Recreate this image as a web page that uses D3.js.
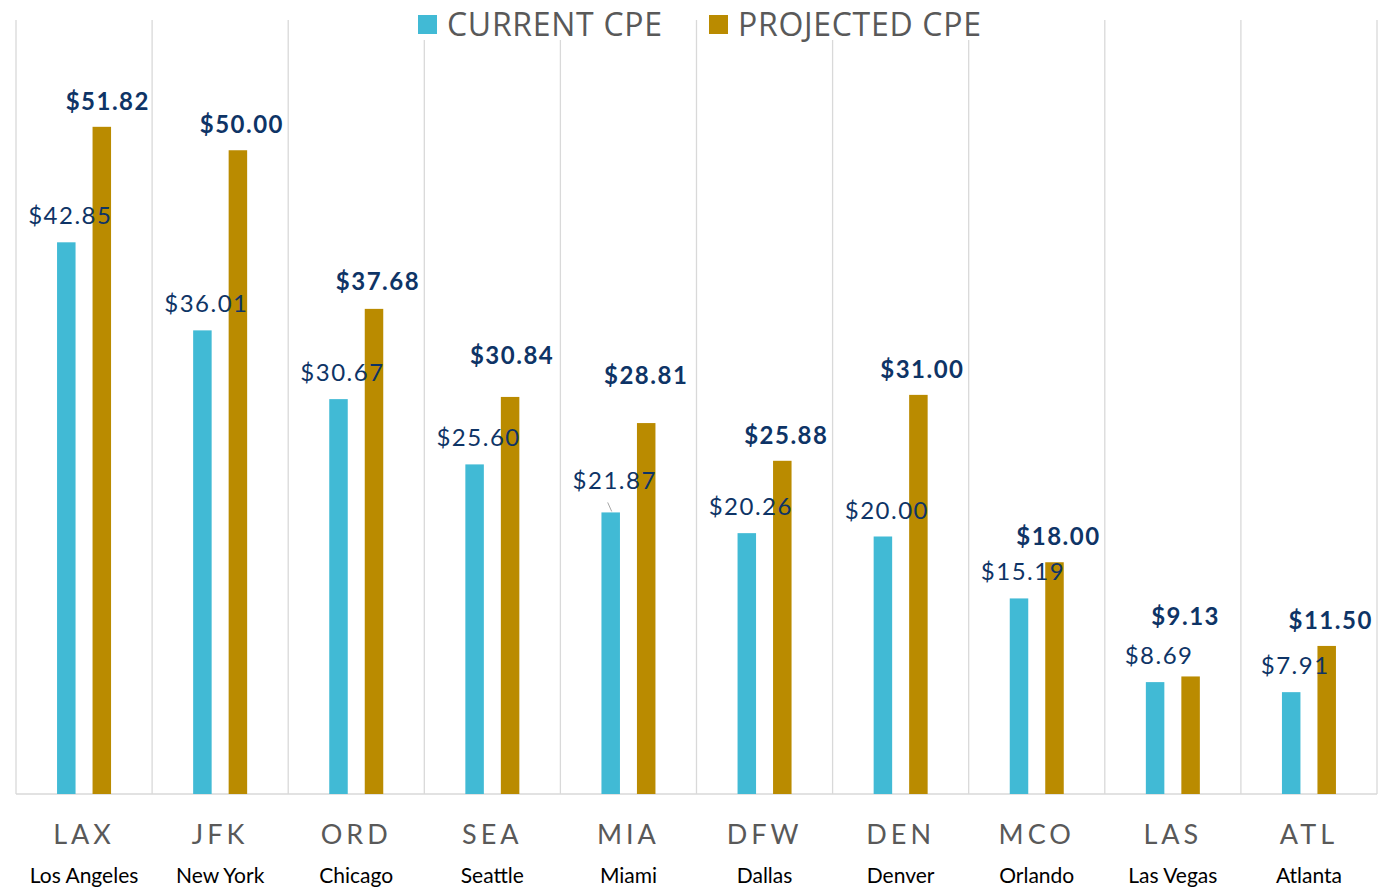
<!DOCTYPE html>
<html>
<head>
<meta charset="utf-8">
<script src="https://cdn.jsdelivr.net/npm/d3@7"></script>
<style>
  body { margin: 0; background: #fff; }
  svg { display: block; }
</style>
</head>
<body>
<div id="chart"></div>
<script>
// data
const codes = ["LAX", "JFK", "ORD", "SEA", "MIA", "DFW", "DEN", "MCO", "LAS", "ATL"];
const cities = ["Los Angeles", "New York", "Chicago", "Seattle", "Miami", "Dallas", "Denver", "Orlando", "Las Vegas", "Atlanta"];
const currentCPE = [42.85, 36.01, 30.67, 25.60, 21.87, 20.26, 20.00, 15.19, 8.69, 7.91];
const projectedCPE = [51.82, 50.00, 37.68, 30.84, 28.81, 25.88, 31.00, 18.00, 9.13, 11.50];
const seriesNames = ["CURRENT CPE", "PROJECTED CPE"];

(function() {
  const fullW = 1383, fullH = 888;
  const plot = { left: 16, right: 1377, top: 20, bottom: 794 };
  const colours = ["#41BAD5", "#BA8B00"];
  const labelColour = "#0E3466";
  const gridColour = "#D9D9D9";

  // hand-placed data labels in the original (extra lift / shift, px)
  const curLift = { MIA: 5 };
  const projLift = { SEA: 16, MIA: 22, LAS: 34, ORD: 2 };
  const projShift = { LAX: 2, MIA: -4, LAS: -9, SEA: -2 };

  const svg = d3.select("#chart").append("svg")
    .attr("width", fullW).attr("height", fullH);

  const x = d3.scaleBand().domain(codes).range([plot.left, plot.right]).padding(0);
  const y = d3.scaleLinear().domain([0, 60]).range([plot.bottom, 21.5]);

  const barW = 18.5, gap = 17;
  const offs = [-(gap / 2 + barW), gap / 2];

  // vertical category separators
  const seps = d3.range(codes.length + 1).map(i => plot.left + i * x.bandwidth());
  svg.append("g").selectAll("line").data(seps).join("line")
    .attr("x1", d => d).attr("x2", d => d)
    .attr("y1", plot.top).attr("y2", plot.bottom)
    .attr("stroke", gridColour).attr("stroke-width", 1.3);

  // baseline
  svg.append("line")
    .attr("x1", plot.left).attr("x2", plot.right)
    .attr("y1", plot.bottom).attr("y2", plot.bottom)
    .attr("stroke", gridColour).attr("stroke-width", 1.5);

  const rows = codes.map((c, i) => ({ code: c, city: cities[i], vals: [currentCPE[i], projectedCPE[i]] }));
  const cx = d => x(d.code) + x.bandwidth() / 2;

  // bars
  [0, 1].forEach(s => {
    svg.append("g").selectAll("rect").data(rows).join("rect")
      .attr("x", d => cx(d) + offs[s])
      .attr("y", d => y(d.vals[s]))
      .attr("width", barW)
      .attr("height", d => y(0) - y(d.vals[s]))
      .attr("fill", colours[s]);
  });

  // leader line for the MIA current label
  const mia = rows.find(d => d.code === "MIA");
  const miaX = cx(mia) + offs[0] + barW / 2;
  svg.append("line")
    .attr("x1", miaX - 3).attr("y1", y(mia.vals[0]) - 10)
    .attr("x2", miaX + 1).attr("y2", y(mia.vals[0]) - 1)
    .attr("stroke", "#A6A6A6").attr("stroke-width", 1);

  // value labels
  svg.append("g").selectAll("text").data(rows).join("text")
    .attr("x", d => cx(d) + offs[0] + barW / 2 + 4)
    .attr("y", d => y(d.vals[0]) - 18 - (curLift[d.code] || 0))
    .attr("text-anchor", "middle")
    .attr("font-family", "Lato, sans-serif")
    .attr("font-size", 24)
    .attr("letter-spacing", 1.5)
    .attr("fill", labelColour)
    .text(d => "$" + d.vals[0].toFixed(2));

  svg.append("g").selectAll("text").data(rows).join("text")
    .attr("x", d => cx(d) + offs[1] + barW / 2 + 4 + (projShift[d.code] || 0))
    .attr("y", d => y(d.vals[1]) - 17 - (projLift[d.code] || 0))
    .attr("text-anchor", "middle")
    .attr("font-family", "Lato, sans-serif")
    .attr("font-weight", "bold")
    .attr("font-size", 24)
    .attr("letter-spacing", 1.5)
    .attr("fill", labelColour)
    .text(d => "$" + d.vals[1].toFixed(2));

  // category labels
  svg.append("g").selectAll("text").data(rows).join("text")
    .attr("x", d => cx(d))
    .attr("y", 844)
    .attr("text-anchor", "middle")
    .attr("font-family", "Lato, sans-serif")
    .attr("font-size", 27)
    .attr("letter-spacing", 4)
    .attr("fill", "#595959")
    .text(d => d.code);

  svg.append("g").selectAll("text").data(rows).join("text")
    .attr("x", d => cx(d))
    .attr("y", 883)
    .attr("text-anchor", "middle")
    .attr("font-family", "Lato, sans-serif")
    .attr("font-size", 21)
    .attr("fill", "#000")
    .text(d => d.city);

  // legend
  const legendX = [418, 709];
  const legend = svg.append("g");
  seriesNames.forEach((name, i) => {
    const g = legend.append("g").attr("transform", `translate(${legendX[i]},0)`);
    g.append("rect").attr("x", -3).attr("y", 0).attr("width", i === 0 ? 250 : 282).attr("height", 40).attr("fill", "#fff");
    g.append("rect").attr("x", 0).attr("y", 15).attr("width", 19).attr("height", 19).attr("fill", colours[i]);
    g.append("text")
      .attr("x", 29).attr("y", 36)
      .attr("font-family", "'Open Sans', sans-serif")
      .attr("font-size", 32)
      .attr("letter-spacing", 0.7)
      .attr("fill", "#595959")
      .text(name);
  });
})();
</script>
</body>
</html>
